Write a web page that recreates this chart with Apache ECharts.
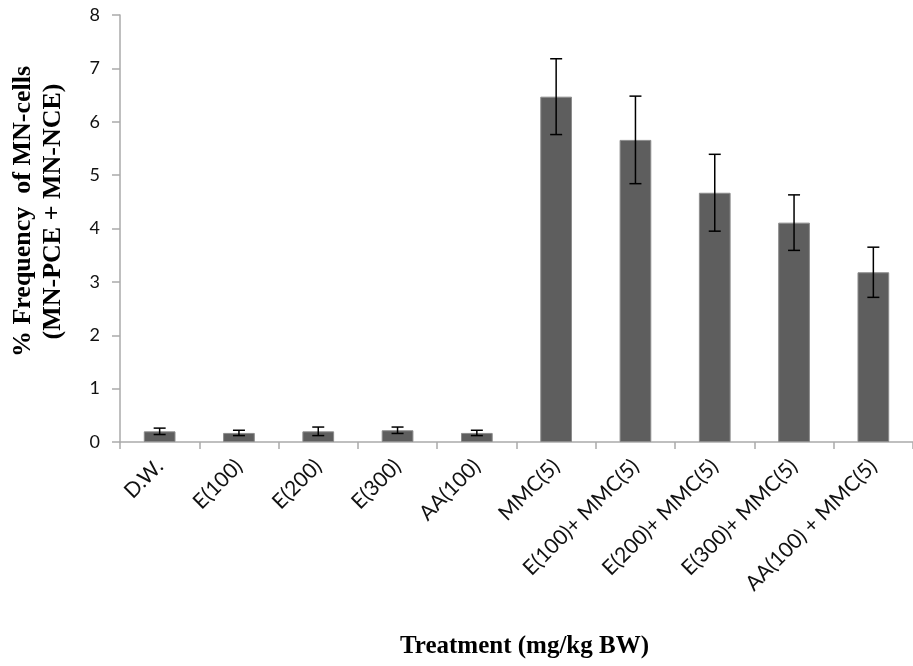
<!DOCTYPE html>
<html>
<head>
    <meta charset="utf8">
    <script src="https://cdn.jsdelivr.net/npm/echarts@6/dist/echarts.min.js"></script>
    <style>
        body { margin: 0; background: #fff; }
        #main { width: 913px; height: 666px; }
    </style>
</head>
<body>
    <div id="main"></div>
    <script type="text/javascript">
        // treatments on the x axis
        var categories = ['D.W.', 'E(100)', 'E(200)', 'E(300)', 'AA(100)', 'MMC(5)',
            'E(100)+ MMC(5)', 'E(200)+ MMC(5)', 'E(300)+ MMC(5)', 'AA(100) + MMC(5)'];
        // mean % frequency of MN cells
        var means = [0.20, 0.17, 0.20, 0.22, 0.17, 6.47, 5.66, 4.67, 4.11, 3.18];
        // +/- error (SD)
        var errors = [0.06, 0.05, 0.08, 0.06, 0.05, 0.71, 0.82, 0.72, 0.52, 0.47];
        var yTicks = [0, 1, 2, 3, 4, 5, 6, 7, 8];

        var errData = [];
        for (var i = 0; i < means.length; i++) {
            errData.push([i, means[i] - errors[i], means[i] + errors[i]]);
        }

        function renderError(params, api) {
            var lo = api.coord([api.value(0), api.value(1)]);
            var hi = api.coord([api.value(0), api.value(2)]);
            var half = 6;
            var st = { stroke: '#000', lineWidth: 1.5 };
            return {
                type: 'group',
                children: [
                    { type: 'line', shape: { x1: hi[0], y1: hi[1], x2: lo[0], y2: lo[1] }, style: st },
                    { type: 'line', shape: { x1: hi[0] - half, y1: hi[1], x2: hi[0] + half, y2: hi[1] }, style: st },
                    { type: 'line', shape: { x1: lo[0] - half, y1: lo[1], x2: lo[0] + half, y2: lo[1] }, style: st }
                ]
            };
        }

        var chart = echarts.init(document.getElementById('main'));
        var option = {
            animation: false,
            grid: { left: 118, right: -8, top: 15, bottom: 224 },
            xAxis: {
                type: 'category',
                data: categories,
                axisLine: { lineStyle: { color: '#aaaaaa', width: 1.5 } },
                axisTick: { show: true, length: 7, lineStyle: { color: '#aaaaaa', width: 1.5 } },
                axisLabel: {
                    rotate: 45, margin: 21, interval: 0,
                    fontFamily: 'Lato', fontSize: 21, color: '#111'
                },
                name: 'Treatment (mg/kg BW)',
                nameLocation: 'middle',
                nameGap: 192,
                nameTextStyle: {
                    fontFamily: 'Liberation Serif', fontWeight: 'bold', fontSize: 25, color: '#000',
                    padding: [0, 0, 0, 16]
                }
            },
            yAxis: {
                type: 'value',
                min: yTicks[0],
                max: yTicks[yTicks.length - 1],
                interval: 1,
                splitLine: { show: false },
                axisLine: { show: true, lineStyle: { color: '#aaaaaa', width: 1.5 } },
                axisTick: { show: true, length: 8, lineStyle: { color: '#aaaaaa', width: 1.5 } },
                axisLabel: { fontFamily: 'Lato', fontSize: 18, color: '#111', margin: 20 },
                name: '% Frequency  of MN-cells\n(MN-PCE + MN-NCE)',
                nameLocation: 'middle',
                nameRotate: 90,
                nameGap: 52,
                nameTextStyle: {
                    fontFamily: 'Liberation Serif', fontWeight: 'bold', fontSize: 26, color: '#000',
                    lineHeight: 30, padding: [0, 0, 0, 34]
                }
            },
            series: [
                {
                    type: 'bar',
                    data: means,
                    barWidth: '40%',
                    itemStyle: { color: '#5e5e5e', borderColor: '#8c8c8c', borderWidth: 1 }
                },
                {
                    type: 'custom',
                    data: errData,
                    renderItem: renderError,
                    encode: { x: 0, y: [1, 2] },
                    z: 10
                }
            ]
        };
        chart.setOption(option);
    </script>
</body>
</html>
